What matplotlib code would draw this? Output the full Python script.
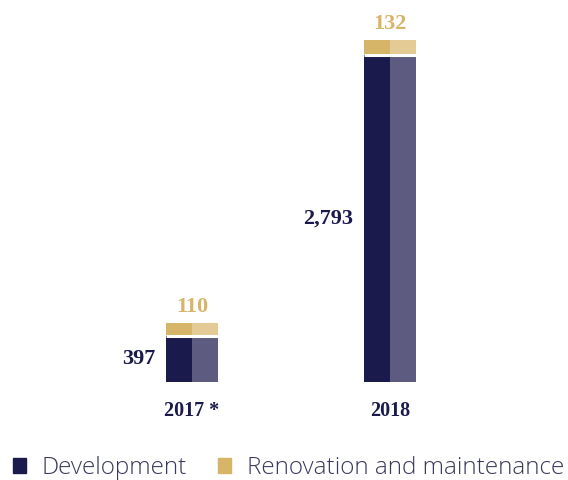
import matplotlib.pyplot as plt
from matplotlib.patches import Patch
import numpy as np

# investment by year, two components
years = ['2017 *', '2018']
development = [397, 2793]
renovation = [110, 132]

navy = '#1b1a4d'
navy_light = '#5d5c80'
gold = '#d6b468'
gold_light = '#e4cb95'
text_col = '#3a3a5c'

fig = plt.figure(figsize=(5.68, 4.8), dpi=100)
ax = fig.add_axes([0, 0.204, 1, 0.796])

x = np.arange(len(years))
w = 0.263
dev = np.array(development)
ren = np.array(renovation)

# each bar is split into a dark left half and a lighter right half
ax.bar(x - w / 2, dev, w / 2, align='edge', color=navy)
ax.bar(x, dev, w / 2, align='edge', color=navy_light)
ax.bar(x - w / 2, ren, w / 2, bottom=dev, align='edge', color=gold)
ax.bar(x, ren, w / 2, bottom=dev, align='edge', color=gold_light)
ax.hlines(dev, x - w / 2, x + w / 2, color='white', lw=2.2)

for xi, d, r in zip(x, dev, ren):
    ax.annotate(f'{d:,}', (xi - w / 2, d / 2), xytext=(-8, 0), textcoords='offset points',
                ha='right', va='center', fontsize=16, fontweight='bold',
                family='Liberation Serif', color=navy)
    ax.annotate(f'{r:,}', (xi, d + r), xytext=(0, 4), textcoords='offset points',
                ha='center', va='bottom', fontsize=16, fontweight='bold',
                family='Liberation Serif', color=gold)

for xi, lab in zip(x, years):
    ax.annotate(lab, (xi, 0), xytext=(0, -21), textcoords='offset points',
                ha='center', va='center', fontsize=14.5, fontweight='bold',
                family='Liberation Serif', color=navy)

ax.set_xlim(-0.97, 1.899)
ax.set_ylim(0, 3263)
ax.axis('off')

handles = [Patch(color=navy, label='Development'),
           Patch(color=gold, label='Renovation and maintenance')]
leg = fig.legend(handles=handles, loc='center left', bbox_to_anchor=(0.014, 0.025),
                 ncol=2, frameon=False, handlelength=0.53, handleheight=0.53,
                 handletextpad=0.65, columnspacing=1.3, borderaxespad=0, borderpad=0.2,
                 prop={'family': 'Open Sans', 'size': 17.5, 'weight': 'light'})
for t in leg.get_texts():
    t.set_color(text_col)

fig.savefig('out.png', dpi=100)
